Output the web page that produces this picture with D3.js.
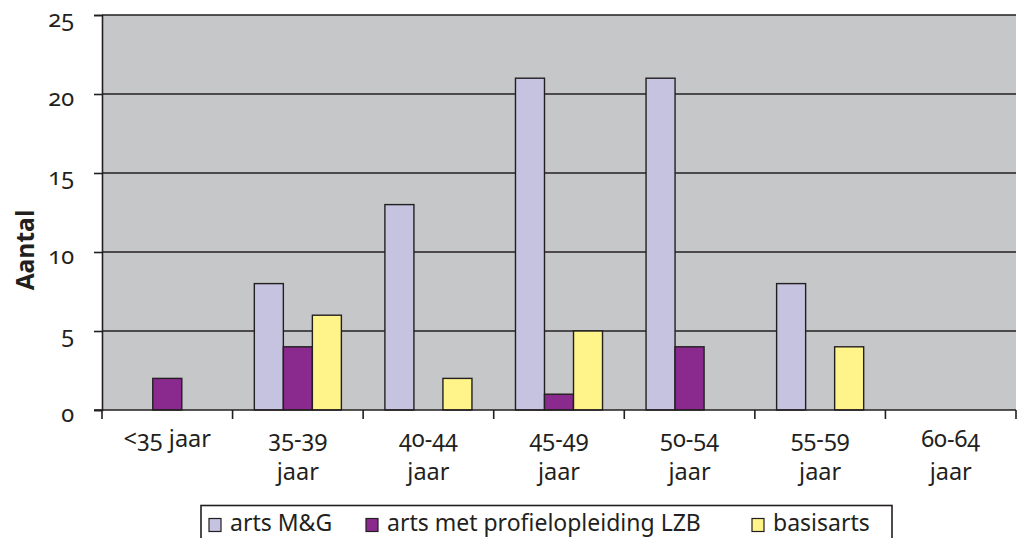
<!DOCTYPE html>
<html>
<head>
<meta charset="utf-8">
<script src="https://cdn.jsdelivr.net/npm/d3@7"></script>
<style>
  html, body { margin: 0; padding: 0; background: #ffffff; }
  svg { display: block; }
  .lbl { font-family: "Noto Sans", "Open Sans", sans-serif; font-size: 23.5px; fill: #231f20;
         font-feature-settings: "onum" 1; font-variant-numeric: oldstyle-nums; }
  .legend-text { font-size: 23px; }
  .ytitle { font-family: "Open Sans", "Liberation Sans", sans-serif; font-weight: 700; font-size: 24.5px; fill: #231f20; }
</style>
</head>
<body>
<svg id="chart" width="1019" height="538"></svg>
<script>
// Age groups (two-line labels) and counts per profession
const categories = ["<35 jaar", "35-39 jaar", "40-44 jaar", "45-49 jaar", "50-54 jaar", "55-59 jaar", "60-64 jaar"];
const labelLines = [["<35 jaar"], ["35-39", "jaar"], ["40-44", "jaar"], ["45-49", "jaar"], ["50-54", "jaar"], ["55-59", "jaar"], ["60-64", "jaar"]];
const seriesNames = ["arts M&G", "arts met profielopleiding LZB", "basisarts"];
const artsMG = [0, 8, 13, 21, 21, 8, 0];
const artsLZB = [2, 4, 0, 1, 4, 0, 0];
const basisarts = [0, 6, 2, 5, 0, 4, 0];
const yTicks = [0, 5, 10, 15, 20, 25];
const colors = ["#c6c3e0", "#8b2a8e", "#fff48a"];

const series = [artsMG, artsLZB, basisarts];
const ink = "#231f20";

const svg = d3.select("#chart");
const plot = { left: 102, right: 1016, top: 15, bottom: 410 };

const x = d3.scaleBand().domain(categories).range([plot.left, plot.right]).paddingInner(0).paddingOuter(0);
const y = d3.scaleLinear().domain([0, 25]).range([plot.bottom, plot.top]);

// Excel-style gap width of 150% between bar clusters
const gapRatio = 1.5;
const barW = x.bandwidth() / (series.length + gapRatio);
const groupOffset = barW * gapRatio / 2;

// plot background
svg.append("rect")
  .attr("x", plot.left).attr("y", plot.top)
  .attr("width", plot.right - plot.left).attr("height", plot.bottom - plot.top)
  .attr("fill", "#c6c7c9");

// horizontal gridlines
svg.append("g").selectAll("line")
  .data(yTicks.filter(d => d > 0))
  .join("line")
  .attr("x1", plot.left).attr("x2", plot.right)
  .attr("y1", d => y(d)).attr("y2", d => y(d))
  .attr("stroke", ink).attr("stroke-width", 1.6);

// bars
series.forEach((vals, si) => {
  svg.append("g").selectAll("rect")
    .data(vals.map((v, i) => ({ v, c: categories[i] })).filter(d => d.v > 0))
    .join("rect")
    .attr("x", d => x(d.c) + groupOffset + si * barW)
    .attr("y", d => y(d.v))
    .attr("width", barW)
    .attr("height", d => y(0) - y(d.v))
    .attr("fill", colors[si])
    .attr("stroke", ink).attr("stroke-width", 1.4);
});

// y axis
const yAxis = svg.append("g").attr("transform", `translate(${plot.left},0)`)
  .call(d3.axisLeft(y).tickValues(yTicks).tickSize(8).tickPadding(20).tickFormat(d3.format("d")));
yAxis.attr("font-size", null).attr("font-family", null);
yAxis.select(".domain").attr("stroke", ink).attr("stroke-width", 1.6);
yAxis.selectAll(".tick line").attr("stroke", ink).attr("stroke-width", 1.6);
yAxis.selectAll(".tick text").attr("class", "lbl").attr("fill", null).attr("dy", "0.5em");

// x axis
const xTickPos = categories.map(c => x(c)).concat([plot.right]);
svg.append("line")
  .attr("x1", plot.left - 8).attr("x2", plot.right)
  .attr("y1", plot.bottom).attr("y2", plot.bottom)
  .attr("stroke", ink).attr("stroke-width", 1.6);
svg.append("g").selectAll("line")
  .data(xTickPos)
  .join("line")
  .attr("x1", d => d).attr("x2", d => d)
  .attr("y1", plot.bottom).attr("y2", plot.bottom + 9)
  .attr("stroke", ink).attr("stroke-width", 1.6);

const xl = svg.append("g").selectAll("text")
  .data(categories)
  .join("text")
  .attr("class", "lbl")
  .attr("text-anchor", "middle")
  .attr("x", d => x(d) + x.bandwidth() / 2)
  .attr("y", 447);
xl.each(function(d, i) {
  const t = d3.select(this);
  labelLines[i].forEach((line, li) => {
    t.append("tspan").attr("x", x(d) + x.bandwidth() / 2).attr("dy", li === 0 ? 0 : 33).text(line);
  });
});

// y axis title
svg.append("text")
  .attr("class", "ytitle")
  .attr("text-anchor", "middle")
  .attr("transform", "translate(34,250) rotate(-90)")
  .text("Aantal");

// legend
const legend = svg.append("g");
legend.append("rect")
  .attr("x", 201).attr("y", 505.5).attr("width", 691).attr("height", 40)
  .attr("fill", "#ffffff").attr("stroke", ink).attr("stroke-width", 1.6);
const legendX = [209, 366, 752];
seriesNames.forEach((name, i) => {
  legend.append("rect")
    .attr("x", legendX[i]).attr("y", 518.5).attr("width", 12).attr("height", 13)
    .attr("fill", colors[i]).attr("stroke", ink).attr("stroke-width", 1.2);
  legend.append("text")
    .attr("class", "lbl legend-text")
    .attr("x", legendX[i] + 21).attr("y", 531)
    .text(name);
});
</script>
</body>
</html>
